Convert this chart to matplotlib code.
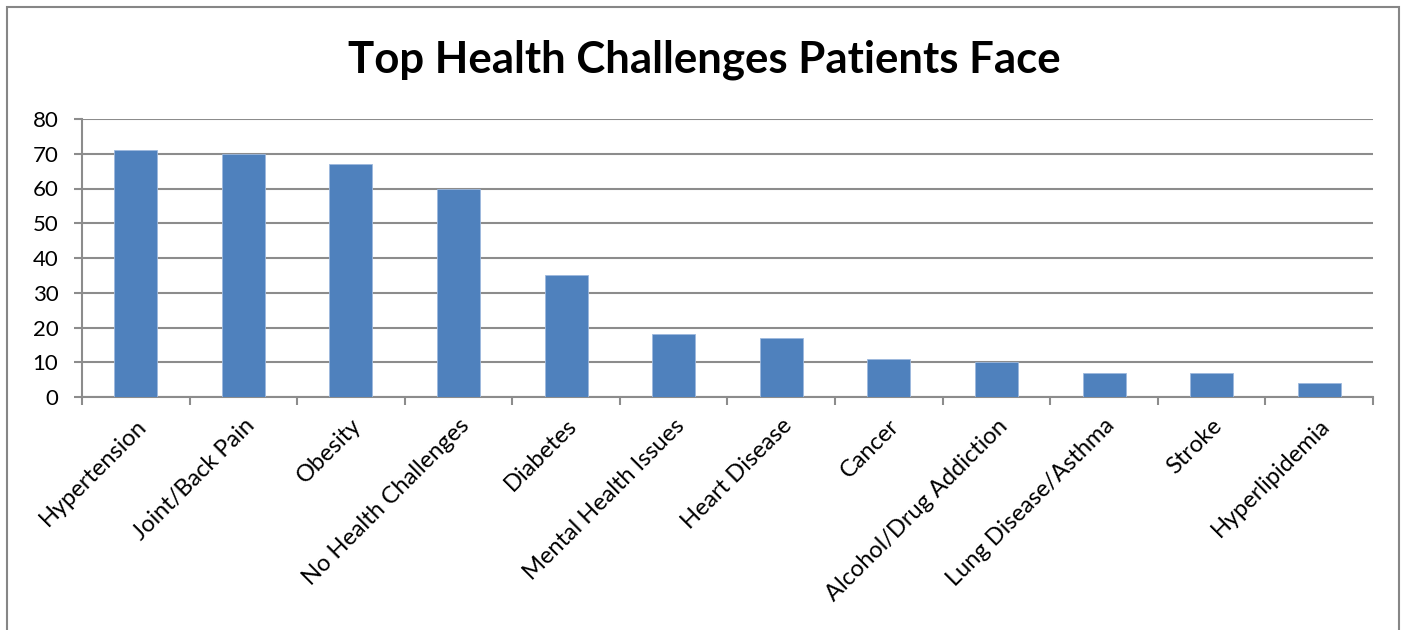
import matplotlib.pyplot as plt
import numpy as np
from matplotlib.patches import Rectangle

categories = ["Hypertension", "Joint/Back Pain", "Obesity", "No Health Challenges",
              "Diabetes", "Mental Health Issues", "Heart Disease", "Cancer",
              "Alcohol/Drug Addiction", "Lung Disease/Asthma", "Stroke", "Hyperlipidemia"]
values = [71, 70, 67, 60, 35, 18, 17, 11, 10, 7, 7, 4]
yticks = [0, 10, 20, 30, 40, 50, 60, 70, 80]
title = "Top Health Challenges Patients Face"

plt.rcParams['font.family'] = ['Lato', 'DejaVu Sans']

fig = plt.figure(figsize=(14.04, 6.3), dpi=100)
fig.patches.append(Rectangle((7/1404, -0.05), (1399-7)/1404, 1 - 7/630 + 0.05,
                             transform=fig.transFigure, fill=False,
                             edgecolor='#868686', linewidth=1.5))
ax = fig.add_axes([82/1404, 1 - 397/630, (1373-82)/1404, (397-119)/630])

x = np.arange(len(categories))
ax.bar(x, values, width=0.4, color='#4F81BD', edgecolor='#9DB9DE', linewidth=0.6, zorder=3)

ax.set_xlim(-0.5, len(categories) - 0.5)
ax.set_ylim(0, 80)
ax.set_yticks(yticks)
ax.yaxis.grid(True, color='#8C8C8C', linewidth=1.5, zorder=0)

ax.set_xticks(np.arange(len(categories) + 1) - 0.5, minor=False)
ax.set_xticklabels([])
ax.set_xticks(x, minor=True)
ax.set_xticklabels(categories, minor=True, rotation=45, ha='right', rotation_mode='anchor', fontsize=17)
ax.tick_params(axis='x', which='minor', length=0, pad=13)
ax.tick_params(axis='x', which='major', length=6, width=1.5, color='#8C8C8C', direction='out')
ax.tick_params(axis='y', length=6, width=1.5, color='#8C8C8C', direction='out', labelsize=16, pad=11)

for s in ['top', 'right']:
    ax.spines[s].set_visible(False)
for s in ['left', 'bottom']:
    ax.spines[s].set_color('#8C8C8C')
    ax.spines[s].set_linewidth(1.5)

fig.text(704/1404, 1 - 60/630, title, ha='center', va='center', fontsize=31.5, fontweight='bold')

fig.savefig('out.png', dpi=100)
